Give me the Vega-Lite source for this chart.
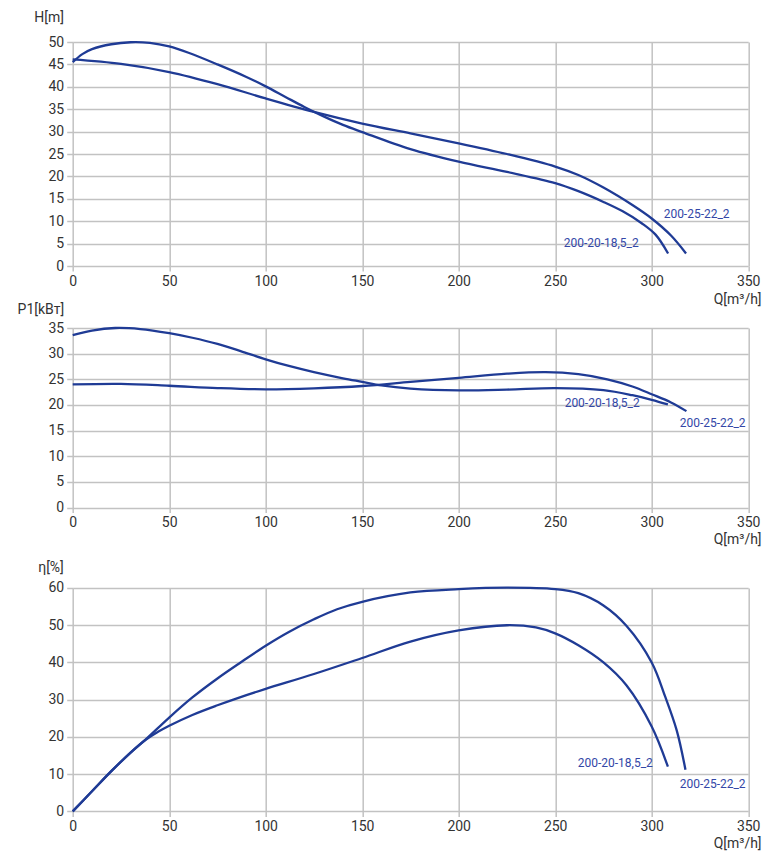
{
  "$schema": "https://vega.github.io/schema/vega-lite/v6.json",
  "background": "white",
  "autosize": {"type": "pad"},
  "padding": {"left": 16.7, "top": 10, "right": 5, "bottom": 5},
  "bounds": "flush",
  "spacing": 62,
  "config": {
    "font": "Roboto",
    "view": {"stroke": null},
    "axis": {
      "domain": false,
      "grid": true,
      "gridColor": "#c2c2c2",
      "gridWidth": 1.5,
      "tickColor": "#c2c2c2",
      "tickWidth": 1.5,
      "labelFont": "Roboto",
      "labelFontSize": 14,
      "labelColor": "#333333",
      "labelFlush": false,
      "labelOverlap": false,
      "titleFont": "Roboto",
      "titleFontSize": 14,
      "titleFontWeight": "normal",
      "titleColor": "#333333"
    },
    "axisX": {"tickSize": 5, "labelPadding": 3},
    "axisY": {"tickSize": 6, "labelPadding": 3}
  },
  "datasets": {
    "head": [
      {"pump": "200-20-18,5_2", "Q": 0, "v": 45.5},
      {"pump": "200-20-18,5_2", "Q": 5, "v": 47.3},
      {"pump": "200-20-18,5_2", "Q": 10, "v": 48.4},
      {"pump": "200-20-18,5_2", "Q": 20, "v": 49.5},
      {"pump": "200-20-18,5_2", "Q": 30, "v": 49.95},
      {"pump": "200-20-18,5_2", "Q": 40, "v": 49.8},
      {"pump": "200-20-18,5_2", "Q": 50, "v": 49.0},
      {"pump": "200-20-18,5_2", "Q": 60, "v": 47.6},
      {"pump": "200-20-18,5_2", "Q": 75, "v": 45.0},
      {"pump": "200-20-18,5_2", "Q": 90, "v": 42.2},
      {"pump": "200-20-18,5_2", "Q": 100, "v": 40.1},
      {"pump": "200-20-18,5_2", "Q": 110, "v": 37.8},
      {"pump": "200-20-18,5_2", "Q": 120, "v": 35.5},
      {"pump": "200-20-18,5_2", "Q": 130, "v": 33.4},
      {"pump": "200-20-18,5_2", "Q": 140, "v": 31.5},
      {"pump": "200-20-18,5_2", "Q": 150, "v": 29.9},
      {"pump": "200-20-18,5_2", "Q": 175, "v": 26.1},
      {"pump": "200-20-18,5_2", "Q": 200, "v": 23.3},
      {"pump": "200-20-18,5_2", "Q": 225, "v": 21.0},
      {"pump": "200-20-18,5_2", "Q": 250, "v": 18.5},
      {"pump": "200-20-18,5_2", "Q": 262, "v": 16.7},
      {"pump": "200-20-18,5_2", "Q": 275, "v": 14.3},
      {"pump": "200-20-18,5_2", "Q": 285, "v": 12.2},
      {"pump": "200-20-18,5_2", "Q": 295, "v": 9.5},
      {"pump": "200-20-18,5_2", "Q": 302, "v": 7.0},
      {"pump": "200-20-18,5_2", "Q": 308.5, "v": 2.8},
      {"pump": "200-25-22_2", "Q": 0, "v": 46.1},
      {"pump": "200-25-22_2", "Q": 25, "v": 45.1},
      {"pump": "200-25-22_2", "Q": 50, "v": 43.3},
      {"pump": "200-25-22_2", "Q": 75, "v": 40.6},
      {"pump": "200-25-22_2", "Q": 100, "v": 37.4},
      {"pump": "200-25-22_2", "Q": 125, "v": 34.4},
      {"pump": "200-25-22_2", "Q": 150, "v": 31.8},
      {"pump": "200-25-22_2", "Q": 175, "v": 29.6},
      {"pump": "200-25-22_2", "Q": 200, "v": 27.4},
      {"pump": "200-25-22_2", "Q": 225, "v": 25.0},
      {"pump": "200-25-22_2", "Q": 250, "v": 22.2},
      {"pump": "200-25-22_2", "Q": 262, "v": 20.3},
      {"pump": "200-25-22_2", "Q": 275, "v": 17.5},
      {"pump": "200-25-22_2", "Q": 290, "v": 13.6},
      {"pump": "200-25-22_2", "Q": 300, "v": 10.6},
      {"pump": "200-25-22_2", "Q": 310, "v": 6.8},
      {"pump": "200-25-22_2", "Q": 317.8, "v": 2.8}
    ],
    "head_labels": [
      {"label": "200-25-22_2", "Q": 306.2, "v": 11.7},
      {"label": "200-20-18,5_2", "Q": 254.4, "v": 5.2}
    ],
    "power": [
      {"pump": "200-20-18,5_2", "Q": 0, "v": 33.6},
      {"pump": "200-20-18,5_2", "Q": 10, "v": 34.5},
      {"pump": "200-20-18,5_2", "Q": 22, "v": 35.0},
      {"pump": "200-20-18,5_2", "Q": 35, "v": 34.8},
      {"pump": "200-20-18,5_2", "Q": 50, "v": 34.0},
      {"pump": "200-20-18,5_2", "Q": 62, "v": 33.1},
      {"pump": "200-20-18,5_2", "Q": 75, "v": 31.9},
      {"pump": "200-20-18,5_2", "Q": 87, "v": 30.5},
      {"pump": "200-20-18,5_2", "Q": 100, "v": 28.9},
      {"pump": "200-20-18,5_2", "Q": 112, "v": 27.6},
      {"pump": "200-20-18,5_2", "Q": 125, "v": 26.4},
      {"pump": "200-20-18,5_2", "Q": 140, "v": 25.2},
      {"pump": "200-20-18,5_2", "Q": 150, "v": 24.5},
      {"pump": "200-20-18,5_2", "Q": 160, "v": 23.8},
      {"pump": "200-20-18,5_2", "Q": 175, "v": 23.2},
      {"pump": "200-20-18,5_2", "Q": 200, "v": 22.85},
      {"pump": "200-20-18,5_2", "Q": 225, "v": 23.0},
      {"pump": "200-20-18,5_2", "Q": 250, "v": 23.3},
      {"pump": "200-20-18,5_2", "Q": 275, "v": 22.9},
      {"pump": "200-20-18,5_2", "Q": 290, "v": 21.9},
      {"pump": "200-20-18,5_2", "Q": 300, "v": 21.0},
      {"pump": "200-20-18,5_2", "Q": 308.4, "v": 20.1},
      {"pump": "200-25-22_2", "Q": 0, "v": 24.0},
      {"pump": "200-25-22_2", "Q": 25, "v": 24.1},
      {"pump": "200-25-22_2", "Q": 50, "v": 23.75},
      {"pump": "200-25-22_2", "Q": 75, "v": 23.3},
      {"pump": "200-25-22_2", "Q": 100, "v": 23.05},
      {"pump": "200-25-22_2", "Q": 125, "v": 23.25},
      {"pump": "200-25-22_2", "Q": 150, "v": 23.7},
      {"pump": "200-25-22_2", "Q": 175, "v": 24.5},
      {"pump": "200-25-22_2", "Q": 200, "v": 25.3},
      {"pump": "200-25-22_2", "Q": 225, "v": 26.1},
      {"pump": "200-25-22_2", "Q": 245, "v": 26.4},
      {"pump": "200-25-22_2", "Q": 262, "v": 26.0},
      {"pump": "200-25-22_2", "Q": 277, "v": 25.0},
      {"pump": "200-25-22_2", "Q": 290, "v": 23.6},
      {"pump": "200-25-22_2", "Q": 300, "v": 22.1},
      {"pump": "200-25-22_2", "Q": 310, "v": 20.5},
      {"pump": "200-25-22_2", "Q": 318, "v": 18.8}
    ],
    "power_labels": [
      {"label": "200-20-18,5_2", "Q": 254.9, "v": 20.4},
      {"label": "200-25-22_2", "Q": 314.5, "v": 16.5}
    ],
    "eff": [
      {"pump": "200-20-18,5_2", "Q": 0, "v": 0},
      {"pump": "200-20-18,5_2", "Q": 10, "v": 5.4},
      {"pump": "200-20-18,5_2", "Q": 20, "v": 10.8},
      {"pump": "200-20-18,5_2", "Q": 30, "v": 15.8},
      {"pump": "200-20-18,5_2", "Q": 38, "v": 19.3},
      {"pump": "200-20-18,5_2", "Q": 44, "v": 21.3},
      {"pump": "200-20-18,5_2", "Q": 50, "v": 23.0},
      {"pump": "200-20-18,5_2", "Q": 62, "v": 25.9},
      {"pump": "200-20-18,5_2", "Q": 75, "v": 28.5},
      {"pump": "200-20-18,5_2", "Q": 87, "v": 30.7},
      {"pump": "200-20-18,5_2", "Q": 100, "v": 32.9},
      {"pump": "200-20-18,5_2", "Q": 125, "v": 36.9},
      {"pump": "200-20-18,5_2", "Q": 150, "v": 41.2},
      {"pump": "200-20-18,5_2", "Q": 175, "v": 45.6},
      {"pump": "200-20-18,5_2", "Q": 200, "v": 48.6},
      {"pump": "200-20-18,5_2", "Q": 225, "v": 50.0},
      {"pump": "200-20-18,5_2", "Q": 240, "v": 49.4},
      {"pump": "200-20-18,5_2", "Q": 250, "v": 47.8},
      {"pump": "200-20-18,5_2", "Q": 262, "v": 44.6},
      {"pump": "200-20-18,5_2", "Q": 275, "v": 40.0},
      {"pump": "200-20-18,5_2", "Q": 287, "v": 33.8},
      {"pump": "200-20-18,5_2", "Q": 300, "v": 22.8},
      {"pump": "200-20-18,5_2", "Q": 308.4, "v": 12.0},
      {"pump": "200-25-22_2", "Q": 0, "v": 0},
      {"pump": "200-25-22_2", "Q": 10, "v": 5.4},
      {"pump": "200-25-22_2", "Q": 20, "v": 10.8},
      {"pump": "200-25-22_2", "Q": 30, "v": 15.8},
      {"pump": "200-25-22_2", "Q": 38, "v": 19.4},
      {"pump": "200-25-22_2", "Q": 50, "v": 25.2},
      {"pump": "200-25-22_2", "Q": 62, "v": 30.6},
      {"pump": "200-25-22_2", "Q": 75, "v": 35.7},
      {"pump": "200-25-22_2", "Q": 87, "v": 40.0},
      {"pump": "200-25-22_2", "Q": 100, "v": 44.5},
      {"pump": "200-25-22_2", "Q": 112, "v": 48.2},
      {"pump": "200-25-22_2", "Q": 125, "v": 51.6},
      {"pump": "200-25-22_2", "Q": 137, "v": 54.3},
      {"pump": "200-25-22_2", "Q": 150, "v": 56.3},
      {"pump": "200-25-22_2", "Q": 175, "v": 58.8},
      {"pump": "200-25-22_2", "Q": 200, "v": 59.7},
      {"pump": "200-25-22_2", "Q": 225, "v": 60.1},
      {"pump": "200-25-22_2", "Q": 250, "v": 59.7},
      {"pump": "200-25-22_2", "Q": 262, "v": 58.6},
      {"pump": "200-25-22_2", "Q": 275, "v": 55.3},
      {"pump": "200-25-22_2", "Q": 287, "v": 49.8},
      {"pump": "200-25-22_2", "Q": 300, "v": 40.0},
      {"pump": "200-25-22_2", "Q": 307, "v": 30.8},
      {"pump": "200-25-22_2", "Q": 313, "v": 21.7},
      {"pump": "200-25-22_2", "Q": 317.5, "v": 11.2}
    ],
    "eff_labels": [
      {"label": "200-20-18,5_2", "Q": 261.7, "v": 13.0},
      {"label": "200-25-22_2", "Q": 314.5, "v": 7.3}
    ]
  },
  "vconcat": [
    {
      "width": 675.5,
      "height": 224,
      "encoding": {
        "x": {
          "field": "Q", "type": "quantitative",
          "scale": {"domain": [0, 350], "nice": false},
          "axis": {"values": [0, 50, 100, 150, 200, 250, 300, 350], "title": "Q[m³/h]",
                   "titleX": 688.4, "titleY": 37, "titleAlign": "right", "titleBaseline": "alphabetic"}
        },
        "y": {
          "field": "v", "type": "quantitative",
          "scale": {"domain": [0, 50], "nice": false},
          "axis": {"values": [0, 5, 10, 15, 20, 25, 30, 35, 40, 45, 50], "title": "H[m]", "titleAngle": 0,
                   "titleX": -39, "titleY": -20.5, "titleAlign": "left", "titleBaseline": "alphabetic"}
        }
      },
      "layer": [
        {
          "data": {"name": "head"},
          "mark": {"type": "line", "interpolate": "catmull-rom", "color": "#1f3b95", "strokeWidth": 2.3},
          "encoding": {"detail": {"field": "pump"}}
        },
        {
          "data": {"name": "head_labels"},
          "mark": {"type": "text", "align": "left", "baseline": "middle", "fontSize": 12, "color": "#3347a7"},
          "encoding": {"text": {"field": "label"}}
        }
      ]
    },
    {
      "bounds": "flush",
      "spacing": 80,
      "vconcat": [
        {
          "width": 675.5,
          "height": 179.6,
          "encoding": {
            "x": {
              "field": "Q", "type": "quantitative",
              "scale": {"domain": [0, 350], "nice": false},
              "axis": {"values": [0, 50, 100, 150, 200, 250, 300, 350], "title": "Q[m³/h]",
                       "titleX": 688.4, "titleY": 36, "titleAlign": "right", "titleBaseline": "alphabetic"}
            },
            "y": {
              "field": "v", "type": "quantitative",
              "scale": {"domain": [0, 35], "nice": false},
              "axis": {"values": [0, 5, 10, 15, 20, 25, 30, 35], "title": "P1[kBт]", "titleAngle": 0,
                       "titleX": -55.6, "titleY": -15, "titleAlign": "left", "titleBaseline": "alphabetic"}
            }
          },
          "layer": [
            {
              "data": {"name": "power"},
              "mark": {"type": "line", "interpolate": "catmull-rom", "color": "#1f3b95", "strokeWidth": 2.3},
              "encoding": {"detail": {"field": "pump"}}
            },
            {
              "data": {"name": "power_labels"},
              "mark": {"type": "text", "align": "left", "baseline": "middle", "fontSize": 12, "color": "#3347a7"},
              "encoding": {"text": {"field": "label"}}
            }
          ]
        },
        {
          "width": 675.5,
          "height": 223.4,
          "encoding": {
            "x": {
              "field": "Q", "type": "quantitative",
              "scale": {"domain": [0, 350], "nice": false},
              "axis": {"values": [0, 50, 100, 150, 200, 250, 300, 350], "title": "Q[m³/h]",
                       "titleX": 688.4, "titleY": 36, "titleAlign": "right", "titleBaseline": "alphabetic"}
            },
            "y": {
              "field": "v", "type": "quantitative",
              "scale": {"domain": [0, 60], "nice": false},
              "axis": {"values": [0, 10, 20, 30, 40, 50, 60], "title": "η[%]", "titleAngle": 0,
                       "titleX": -35, "titleY": -16.3, "titleAlign": "left", "titleBaseline": "alphabetic"}
            }
          },
          "layer": [
            {
              "data": {"name": "eff"},
              "mark": {"type": "line", "interpolate": "catmull-rom", "color": "#1f3b95", "strokeWidth": 2.3},
              "encoding": {"detail": {"field": "pump"}}
            },
            {
              "data": {"name": "eff_labels"},
              "mark": {"type": "text", "align": "left", "baseline": "middle", "fontSize": 12, "color": "#3347a7"},
              "encoding": {"text": {"field": "label"}}
            }
          ]
        }
      ]
    }
  ]
}
